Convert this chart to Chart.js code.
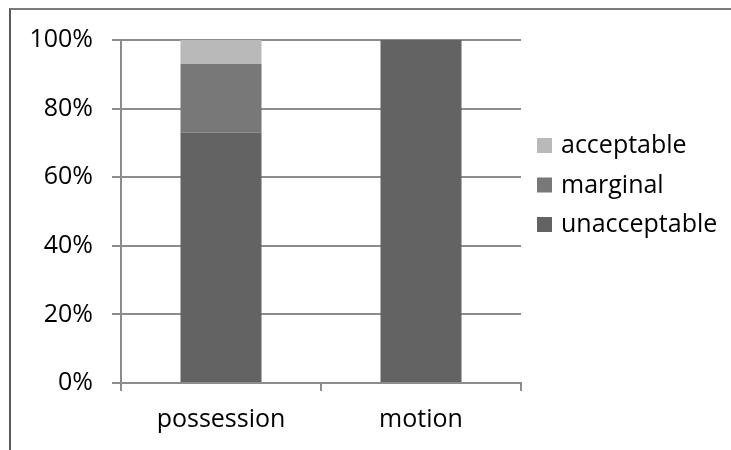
<!DOCTYPE html>
<html>
<head>
<meta charset="utf-8">
<script src="https://cdn.jsdelivr.net/npm/chart.js@4.4.1/dist/chart.umd.min.js"></script>
<style>
  html, body { margin: 0; padding: 0; background: #fff; }
  #wrap { position: relative; width: 731px; height: 450px; overflow: hidden; }
  #frame { position: absolute; left: 9px; top: 8px; width: 740px; height: 460px;
           border-left: 2px solid #5a5a5a; border-top: 2px solid #7a7a7a; box-sizing: border-box; }
  canvas { position: absolute; left: 0; top: 0; }
</style>
</head>
<body>
<div id="wrap">
  <div id="frame"></div>
  <canvas id="c" width="731" height="450"></canvas>
</div>
<script>
const categories = ["possession", "motion"];
const unacceptable = [73, 100];
const marginal = [20, 0];
const acceptable = [7, 0];
const yTicks = [0, 20, 40, 60, 80, 100];

const FONT = "'Open Sans', sans-serif";
const GRID = "#8c8c8c";

const legendPlugin = {
  id: "customLegend",
  afterDraw(chart) {
    const ctx = chart.ctx;
    const items = chart.data.datasets.slice().reverse();
    ctx.save();
    ctx.font = "25px " + FONT;
    ctx.textBaseline = "alphabetic";
    ctx.textAlign = "left";
    items.forEach((ds, i) => {
      const base = 153 + i * 39.5;
      ctx.fillStyle = ds.backgroundColor;
      ctx.fillRect(537, base - 15, 15, 15);
      ctx.fillStyle = "#000";
      ctx.fillText(ds.label, 561, base);
    });
    ctx.restore();
  }
};

new Chart(document.getElementById("c"), {
  type: "bar",
  data: {
    labels: categories,
    datasets: [
      { label: "unacceptable", data: unacceptable, backgroundColor: "#636363" },
      { label: "marginal", data: marginal, backgroundColor: "#787878" },
      { label: "acceptable", data: acceptable, backgroundColor: "#b9b9b9" }
    ]
  },
  options: {
    responsive: false,
    animation: false,
    layout: { padding: { left: 0, top: 40, right: 210, bottom: 0 } },
    datasets: { bar: { categoryPercentage: 1.0, barPercentage: 0.405 } },
    plugins: { legend: { display: false }, tooltip: { enabled: false } },
    scales: {
      x: {
        stacked: true,
        afterFit(s) { s.height = 67; },
        grid: { drawOnChartArea: false, drawTicks: true, tickLength: 8, color: GRID, lineWidth: 2, offset: true },
        border: { display: true, color: GRID, width: 2 },
        ticks: { font: { family: FONT, size: 25 }, color: "#000", padding: 14 }
      },
      y: {
        stacked: true,
        min: 0, max: 100,
        afterFit(s) { s.width = 121; },
        afterBuildTicks(s) { s.ticks = yTicks.map(v => ({ value: v })); },
        grid: { color: GRID, lineWidth: 2, tickLength: 9, drawTicks: true },
        border: { display: true, color: GRID, width: 2 },
        ticks: { font: { family: FONT, size: 25 }, color: "#000", padding: 19,
                 callback: v => v + "%" }
      }
    }
  },
  plugins: [legendPlugin]
});
</script>
</body>
</html>
